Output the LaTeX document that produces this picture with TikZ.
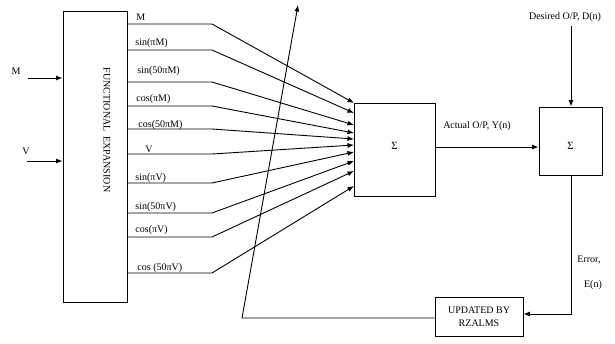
\documentclass[tikz,border=0pt]{standalone}
\usepackage{fontspec}
\setmainfont{Liberation Serif}
\usetikzlibrary{arrows.meta}
\begin{document}
\begin{tikzpicture}[x=1pt,y=-1pt, line width=0.9pt,
  box/.style={draw, inner sep=0pt, line width=0.9pt},
  arr/.style={-{Latex[length=6.5pt,width=5pt]}},
  lbl/.style={font=\fontsize{10}{11}\selectfont, inner sep=0pt},
  llbl/.style={lbl, anchor=west},
]
\useasboundingbox (0,0) rectangle (615,343);
% boxes
\node[box, minimum width=64pt, minimum height=291pt] (fe) at (95,156.5) {};
\node[lbl, rotate=-90] (fet) at (107,130) {FUNCTIONAL\ \ EXPANSION};
\node[box, minimum width=81pt, minimum height=93pt] (s1) at (394.5,149.5) {};
\node[lbl, font=\fontsize{11}{12}\selectfont] (s1t) at (394.5,146) {Σ};
\node[box, minimum width=63pt, minimum height=68pt] (s2) at (570.5,141) {};
\node[lbl, font=\fontsize{11}{12}\selectfont] (s2t) at (570.5,146) {Σ};
\node[box, minimum width=88pt, minimum height=39pt, align=center, font=\fontsize{10}{12.5}\selectfont] (upd) at (479,316.5) {UPDATED BY\\RZALMS};
% inputs
\node[lbl] (mi) at (16,71) {M};
\node[lbl] (vi) at (26,151) {V};
\coordinate (ms) at (28,78);
\coordinate (vs) at (27,161);
\draw[arr] (ms) -- (ms -| fe.west);
\draw[arr] (vs) -- (vs -| fe.west);
% expansion lines
\foreach \n/\y/\t/\lx/\ly/\txt in {
  a/24/103/136/17/M,
  b/50/113/135/43/sin(πM),
  c/82/125/137/71/sin(50πM),
  d/106/133/136/99/cos(πM),
  e/129/139/138/125/cos(50πM),
  f/154/145/145/149/V,
  g/183/152/135/178/sin(πV),
  h/213/161/135/207/sin(50πV),
  i/237/171/135/230/cos(πV),
  j/273/186/137/268/cos (50πV)} {
  \coordinate (k\n) at (212,\y);
  \coordinate (t\n) at (354,\t);
  \draw[arr] (k\n -| fe.east) -- (k\n) -- (t\n);
  \node[llbl] (l\n) at (\lx,\ly) {\txt};
}
% output
\draw[arr] (s1.east |- 0,147) -- (s2.west |- 0,147);
\node[lbl] (act) at (477,126) {Actual O/P, Y(n)};
\node[lbl] (des) at (565,17) {Desired O/P, D(n)};
\coordinate (ds) at (571,26);
\draw[arr] (ds) -- (ds |- s2.north);
% error
\coordinate (ec) at (571,314);
\draw[arr] (ec |- s2.south) -- (ec) -- (ec -| upd.east);
\node[lbl] (err) at (589,260) {Error,};
\node[lbl] (en) at (593,285) {E(n)};
% feedback
\coordinate (fb1) at (242,318);
\coordinate (fb2) at (298,5);
\draw[arr] (upd.west |- fb1) -- (fb1) -- (fb2);
\end{tikzpicture}
\end{document}
